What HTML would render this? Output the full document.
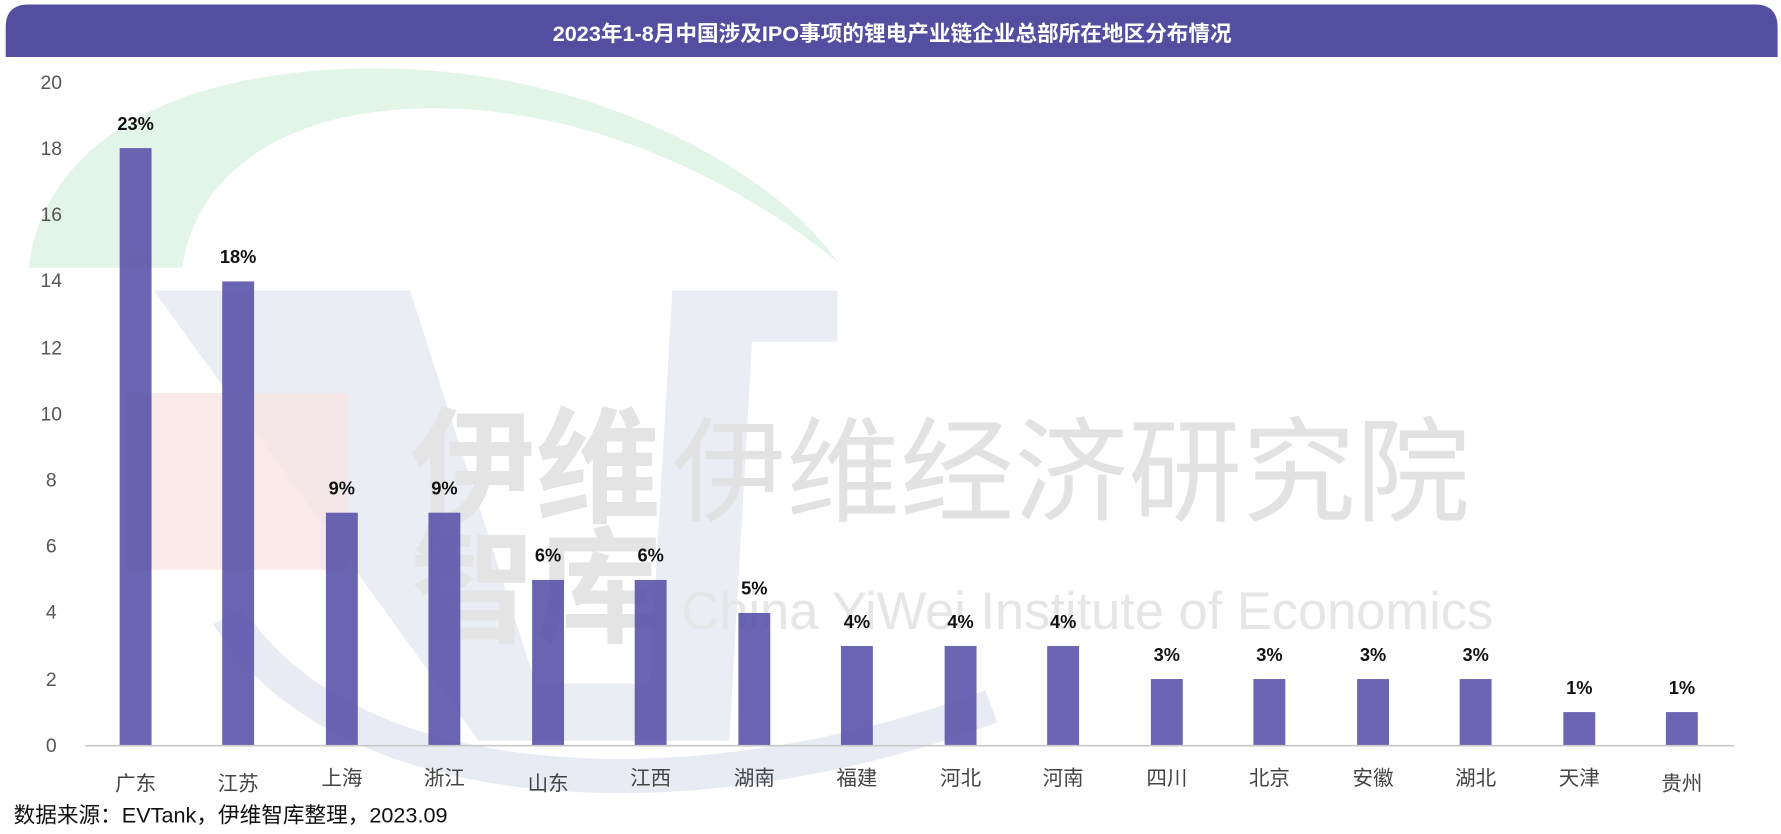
<!DOCTYPE html>
<html><head><meta charset="utf-8"><style>
html,body{margin:0;padding:0;background:#fff;}
svg{display:block;}
text{font-family:"Liberation Sans","Noto Sans CJK SC",sans-serif;}
</style></head><body>
<svg width="1781" height="834" viewBox="0 0 1563 732" preserveAspectRatio="none" xmlns="http://www.w3.org/2000/svg">
<rect width="1563" height="732" fill="#fff"/>
<!-- watermark -->
<path d="M25,235 C40,120 160,60 330,60 C520,60 680,150 735,230 C650,160 520,95 380,95 C240,95 170,160 160,235 Z" fill="#e3f5e9"/>
<polygon points="135,255 360,255 470,600 570,600 590,255 735,255 735,300 660,300 640,650 420,650" fill="#e8ebf3" opacity="0.9"/>
<path d="M200,540 C300,700 600,720 870,620" stroke="#e8ebf3" stroke-width="30" fill="none"/>
<rect x="110" y="345" width="195" height="155" fill="#f8e3e3" opacity="0.8"/>
<text x="360" y="450" font-size="110" fill="#e4e4e4" font-weight="bold">伊维</text>
<text x="360" y="555" font-size="110" fill="#e4e4e4" font-weight="bold">智库</text>
<text x="590" y="450" font-size="100" fill="#e2e2e2">伊维经济研究院</text>
<text x="598" y="552" font-size="46" fill="#e6e6e6" font-family="Liberation Serif,serif">China YiWei Institute of Economics</text>
<!-- title -->
<path d="M25,4 H1540 Q1560,4 1560,24 V50 H5 V24 Q5,4 25,4 Z" fill="#534fa0"/>
<text x="783" y="36" font-size="19" font-weight="bold" fill="#fff" text-anchor="middle">2023年1-8月中国涉及IPO事项的锂电产业链企业总部所在地区分布情况</text>
<!-- y axis -->
<g font-size="17" fill="#555" text-anchor="middle">
<text x="45" y="660">0</text><text x="45" y="602">2</text><text x="45" y="543">4</text><text x="45" y="485">6</text><text x="45" y="427">8</text><text x="45" y="369">10</text><text x="45" y="311">12</text><text x="45" y="252">14</text><text x="45" y="194">16</text><text x="45" y="136">18</text><text x="45" y="78">20</text>
</g>
<g fill="#5650a8" opacity="0.88">
<rect x="105" y="130" width="28" height="524"/>
<rect x="195" y="247" width="28" height="407"/>
<rect x="286" y="450" width="28" height="204"/>
<rect x="376" y="450" width="28" height="204"/>
<rect x="467" y="509" width="28" height="145"/>
<rect x="557" y="509" width="28" height="145"/>
<rect x="648" y="538" width="28" height="116"/>
<rect x="738" y="567" width="28" height="87"/>
<rect x="829" y="567" width="28" height="87"/>
<rect x="919" y="567" width="28" height="87"/>
<rect x="1010" y="596" width="28" height="58"/>
<rect x="1100" y="596" width="28" height="58"/>
<rect x="1191" y="596" width="28" height="58"/>
<rect x="1281" y="596" width="28" height="58"/>
<rect x="1372" y="625" width="28" height="29"/>
<rect x="1462" y="625" width="28" height="29"/>
</g>
<line x1="75" y1="654.5" x2="1522" y2="654.5" stroke="#c8c8c8" stroke-width="1.5"/>
<g font-size="16" font-weight="bold" fill="#111" text-anchor="middle">
<text x="119" y="114">23%</text><text x="209" y="231">18%</text><text x="300" y="434">9%</text><text x="390" y="434">9%</text>
<text x="481" y="493">6%</text><text x="571" y="493">6%</text><text x="662" y="522">5%</text><text x="752" y="551">4%</text>
<text x="843" y="551">4%</text><text x="933" y="551">4%</text><text x="1024" y="580">3%</text><text x="1114" y="580">3%</text>
<text x="1205" y="580">3%</text><text x="1295" y="580">3%</text><text x="1386" y="609">1%</text><text x="1476" y="609">1%</text>
</g>
<g font-size="18" fill="#444" text-anchor="middle">
<text x="119" y="694">广东</text><text x="209" y="694">江苏</text><text x="300" y="689">上海</text><text x="390" y="689">浙江</text>
<text x="481" y="694">山东</text><text x="571" y="689">江西</text><text x="662" y="689">湖南</text><text x="752" y="689">福建</text>
<text x="843" y="689">河北</text><text x="933" y="689">河南</text><text x="1024" y="689">四川</text><text x="1114" y="689">北京</text>
<text x="1205" y="689">安徽</text><text x="1295" y="689">湖北</text><text x="1386" y="689">天津</text><text x="1476" y="694">贵州</text>
</g>
<text x="12" y="722" font-size="19" fill="#111">数据来源：EVTank，伊维智库整理，2023.09</text>
</svg>
</body></html>
